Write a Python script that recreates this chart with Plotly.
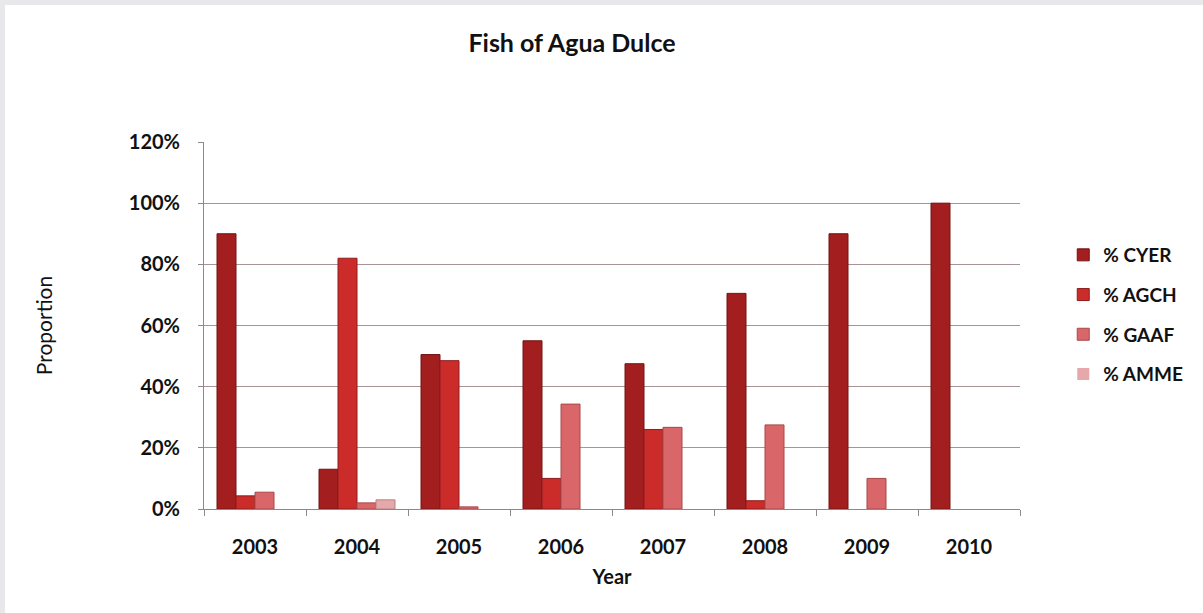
import plotly.graph_objects as go

years = ["2003", "2004", "2005", "2006", "2007", "2008", "2009", "2010"]
cyer = [90, 13, 50.5, 55, 47.5, 70.5, 90, 100]
agch = [4.3, 82, 48.5, 10, 26, 2.7, 0, 0]
gaaf = [5.5, 2, 0.7, 34.3, 26.7, 27.5, 10, 0]
amme = [0, 3, 0, 0, 0, 0, 0, 0]

series = [
    ("% CYER", cyer, "#a31e1e", "#741212"),
    ("% AGCH", agch, "#cb2c2a", "#8e1c1c"),
    ("% GAAF", gaaf, "#d9676a", "#a84848"),
    ("% AMME", amme, "#e6a9ab", "#b98080"),
]

fig = go.Figure()
for i, (name, vals, col, line) in enumerate(series):
    fig.add_trace(go.Bar(
        x=years, y=[v / 100 for v in vals], name=name,
        marker=dict(color=col,
                    line=dict(color=line, width=[1 if v > 0 else 0 for v in vals])),
        legendgroup=name,
    ))

FONT = "Lato"
fig.update_layout(
    width=1203, height=613,
    margin=dict(l=204, r=183, t=142, b=104),
    paper_bgcolor="white", plot_bgcolor="white",
    barmode="group", bargap=0.255, bargroupgap=0,
    font=dict(family=FONT, color="#111111"),
    title=dict(text="<b>Fish of Agua Dulce</b>", x=572 / 1203, xanchor="center",
               y=1 - 43 / 613, yanchor="middle", font=dict(size=25, family=FONT)),
    legend=dict(x=1.053, xanchor="left", y=(509 - 236) / 367, yanchor="top",
                font=dict(size=19, family=FONT, color="#111111", weight="bold"),
                traceorder="grouped", tracegroupgap=12, itemwidth=30,
                bgcolor="rgba(0,0,0,0)"),
    showlegend=True,
)
fig.update_xaxes(
    type="category", showgrid=False, showline=True, linecolor="#8a8a8a", linewidth=1,
    ticks="outside", tickson="boundaries", ticklen=6, tickcolor="#8a8a8a",
    ticklabelstandoff=20,
    tickfont=dict(size=20, family=FONT, color="#111111", weight="bold"),
    title=dict(text="<b>Year</b>", font=dict(size=20, family=FONT), standoff=12),
)
fig.update_yaxes(
    range=[0, 1.2], dtick=0.2, tickformat=".0%",
    showgrid=True, gridcolor="#a89494", gridwidth=1,
    showline=True, linecolor="#8a8a8a", linewidth=1,
    ticks="outside", ticklen=5, tickcolor="#8a8a8a",
    ticklabelstandoff=14,
    tickfont=dict(size=20, family=FONT, color="#111111", weight="bold"),
    zeroline=False,
    title=dict(text="Proportion", font=dict(size=21, family=FONT), standoff=70),
)

# Gray frame at top and left edges of the picture
W, H = 816, 367
fig.add_shape(type="rect", xref="paper", yref="paper",
              x0=-204 / W, x1=-199 / W, y0=-104 / H, y1=509 / H,
              fillcolor="#e8e8ea", line=dict(width=0), layer="below")
fig.add_shape(type="rect", xref="paper", yref="paper",
              x0=-204 / W, x1=999 / W, y0=504 / H, y1=509 / H,
              fillcolor="#e8e8ea", line=dict(width=0), layer="below")

fig.write_html("out.html")
